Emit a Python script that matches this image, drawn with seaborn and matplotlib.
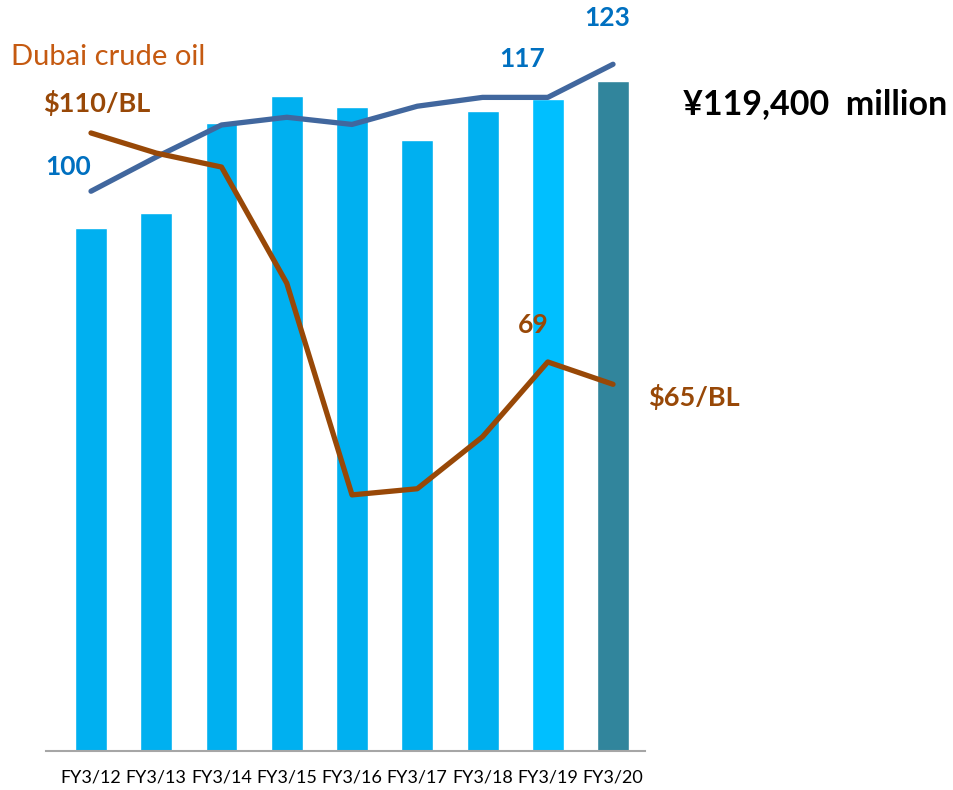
import matplotlib
matplotlib.use("Agg")
import matplotlib.pyplot as plt
import numpy as np
import pandas as pd
import seaborn as sns

# values
years = ["FY3/12", "FY3/13", "FY3/14", "FY3/15", "FY3/16",
         "FY3/17", "FY3/18", "FY3/19", "FY3/20"]
sales = [93200, 95900, 111900, 116700, 114800, 108900, 114000, 116200, 119400]  # yen million
index = [100, 106.2, 112.0, 113.4, 112.1, 115.4, 117, 117, 123]
crude = [110, 106.4, 103.9, 83.1, 45.2, 46.3, 55.6, 69, 65]  # $/BL
bar_colors = ["#00B0F0"] * 7 + ["#00BFFF", "#31859C"]

df = pd.DataFrame({"year": years, "sales": sales, "index": index, "crude": crude})

sns.set_theme(style="white")
plt.rcParams["font.family"] = ["Lato", "DejaVu Sans"]

fig = plt.figure(figsize=(9.54, 7.9), dpi=100, facecolor="white")
ax = fig.add_axes([0.0482, 0.0494, 0.6279, 0.90])

sns.barplot(data=df, x="year", y="sales", hue="year", palette=bar_colors,
            width=0.49, legend=False, saturation=1, ax=ax)

# index line (blue)
ax2 = ax.twinx()
sns.pointplot(data=df, x="year", y="index", color="#41679E", markers="",
              linestyles="-", errorbar=None, ax=ax2)
for ln in ax2.lines:
    ln.set_linewidth(3.8)
    ln.set_solid_capstyle("round")

# crude oil line (brown)
ax3 = ax.twinx()
sns.pointplot(data=df, x="year", y="crude", color="#984807", markers="",
              linestyles="-", errorbar=None, ax=ax3)
for ln in ax3.lines:
    ln.set_linewidth(3.8)
    ln.set_solid_capstyle("round")

for a in (ax, ax2, ax3):
    a.set_xlim(-0.69, 8.49)
    a.set_ylabel("")
    a.set_xlabel("")
    a.set_yticks([])
    for s in ("top", "right", "left"):
        a.spines[s].set_visible(False)
ax2.spines["bottom"].set_visible(False)
ax3.spines["bottom"].set_visible(False)

ax.set_ylim(0, 126700)
ax2.set_ylim(-1.4, 127.4)
ax3.set_ylim(-0.65, 126.65)

ax.spines["bottom"].set_color("#A6A6A6")
ax.spines["bottom"].set_linewidth(1.5)
ax.tick_params(axis="x", length=0, pad=13, labelsize=13, labelcolor="#000000")

blue_txt = "#0070C0"
brown_txt = "#984807"
kw = dict(textcoords="offset pixels", ha="center", va="center", fontweight="bold")

ax2.annotate("100", (0, index[0]), xytext=(-23, 24), color=blue_txt, fontsize=19, **kw)
ax2.annotate("117", (7, index[7]), xytext=(-26, 38), color=blue_txt, fontsize=19, **kw)
ax2.annotate("123", (8, index[8]), xytext=(-6, 46), color=blue_txt, fontsize=19, **kw)

ax3.annotate("$110/BL", (0, crude[0]), xytext=(6, 30), color=brown_txt, fontsize=19.5, **kw)
ax3.annotate("69", (7, crude[7]), xytext=(-15, 37), color=brown_txt, fontsize=19, **kw)
ax3.annotate("$65/BL", (8, crude[8]), xytext=(81, -13), color=brown_txt, fontsize=19.5, **kw)
ax3.annotate("Dubai crude oil", (0, crude[0]), xytext=(17, 76), textcoords="offset pixels",
             ha="center", va="center", color="#C55A11", fontsize=21)

ax.annotate("¥119,400  million", (8, sales[8]), xytext=(70, -23), textcoords="offset pixels",
            ha="left", va="center", color="black", fontsize=24.5, fontweight="bold")

plt.savefig("out.png", dpi=100, facecolor="white")
